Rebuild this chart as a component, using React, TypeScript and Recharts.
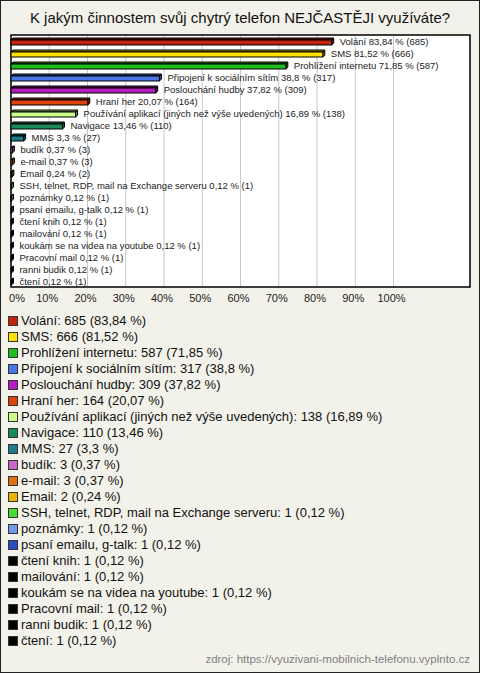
import { BarChart, Bar, XAxis, YAxis, CartesianGrid, ReferenceArea, LabelList, Cell } from 'recharts';

const categories = [
  'Volání',
  'SMS',
  'Prohlížení internetu',
  'Připojení k sociálním sítím',
  'Poslouchání hudby',
  'Hraní her',
  'Používání aplikací (jiných než výše uvedených)',
  'Navigace',
  'MMS',
  'budík',
  'e-mail',
  'Email',
  'SSH, telnet, RDP, mail na Exchange serveru',
  'poznámky',
  'psaní emailu, g-talk',
  'čtení knih',
  'mailování',
  'koukám se na videa na youtube',
  'Pracovní mail',
  'ranni budik',
  'čtení',
];

const counts = [685, 666, 587, 317, 309, 164, 138, 110, 27, 3, 3, 2, 1, 1, 1, 1, 1, 1, 1, 1, 1];

const percents = [83.84, 81.52, 71.85, 38.8, 37.82, 20.07, 16.89, 13.46, 3.3, 0.37, 0.37, 0.24, 0.12, 0.12, 0.12, 0.12, 0.12, 0.12, 0.12, 0.12, 0.12];

const xTicks = [0, 10, 20, 30, 40, 50, 60, 70, 80, 90, 100];

const colors = [
  '#c4230f', '#ffe000', '#1fbb1f', '#4a76e8', '#b51dbf', '#e0420c', '#ccff88',
  '#1a8a5a', '#1f7a8c', '#cc66cc', '#e07010', '#e8b400', '#44dd33', '#6f9ae8',
  '#2a4fc0', '#000000', '#000000', '#000000', '#000000', '#000000', '#000000',
];

const fmt = (v: number) => String(v).replace('.', ',');

const data = categories.map((name, i) => ({
  name,
  pct: percents[i],
  count: counts[i],
  label: `${name} ${fmt(percents[i])} % (${counts[i]})`,
}));

function darken(hex: string, f: number) {
  const n = parseInt(hex.slice(1), 16);
  const r = Math.round(((n >> 16) & 255) * f);
  const g = Math.round(((n >> 8) & 255) * f);
  const b = Math.round((n & 255) * f);
  return `rgb(${r},${g},${b})`;
}

// flat bar with a little 3D top + end face, like the original image
const Bar3D = (props: any) => {
  const { x, y, width, height, fill } = props;
  const d = 2;
  const w = Math.max(width, 0.5);
  const dark = darken(fill, 0.6);
  return (
    <g stroke="#000" strokeWidth={1}>
      <polygon
        points={`${x},${y + d} ${x + d},${y} ${x + w + d},${y} ${x + w},${y + d}`}
        fill={dark}
      />
      <polygon
        points={`${x + w},${y + d} ${x + w + d},${y} ${x + w + d},${y + height - d} ${x + w},${y + height}`}
        fill={dark}
      />
      <rect x={x} y={y + d} width={w} height={height - d} fill={fill} />
    </g>
  );
};

const font = '"Liberation Sans", Arial, sans-serif';

// no wrapping, just one line right of the bar
const BarLabel = (props: any) => {
  const { x, y, width, height, value } = props;
  return (
    <text
      x={x + width + 8}
      y={y + height / 2}
      dominantBaseline="central"
      fontSize={9.5}
      fill="#222"
      fontFamily={font}
    >
      {value}
    </text>
  );
};

// 0% is pushed a bit right so it sits inside the frame, rest slightly left
const PctTick = (props: any) => {
  const { x, y, payload } = props;
  const dx = payload.value === 0 ? 6 : -2;
  return (
    <text x={x + dx} y={y + 4} textAnchor="middle" dominantBaseline="central" fontSize={11} fill="#222" fontFamily={font}>
      {`${payload.value}%`}
    </text>
  );
};

export default function App() {
  return (
    <div
      style={{
        position: 'absolute',
        top: 0,
        left: 0,
        width: 478,
        height: 671,
        background: '#f3f2ea',
        border: '1px solid #222',
        fontFamily: font,
        color: '#111',
      }}
    >
      <div
        style={{
          position: 'absolute',
          top: 8,
          left: 0,
          width: 478,
          textAlign: 'center',
          fontSize: 15,
        }}
      >
        K jakým činnostem svůj chytrý telefon NEJČASTĚJI využíváte?
      </div>

      <div style={{ position: 'absolute', top: -1, left: -1 }}>
        <BarChart
          width={480}
          height={310}
          data={data}
          layout="vertical"
          margin={{ top: 35, right: 10, bottom: 0, left: 11 }}
          barCategoryGap={0}
        >
          <CartesianGrid horizontal={false} stroke="#c8c8c8" fill="#ffffff" />
          <ReferenceArea x1={0} x2={120} fill="none" stroke="#000" strokeWidth={1.5} ifOverflow="visible" />
          <XAxis
            type="number"
            domain={[0, 120]}
            ticks={xTicks}
            axisLine={false}
            tickLine={false}
            tickSize={0}
            tickMargin={7}
            height={23}
            tick={<PctTick />}
            interval={0}
          />
          <YAxis type="category" dataKey="name" hide />
          <Bar dataKey="pct" barSize={7} shape={<Bar3D />} isAnimationActive={false}>
            {data.map((d, i) => (
              <Cell key={d.name} fill={colors[i]} />
            ))}
            <LabelList dataKey="label" content={<BarLabel />} />
          </Bar>
        </BarChart>
      </div>

      <div style={{ position: 'absolute', top: 312, left: 7, fontSize: 13, lineHeight: '16px' }}>
        {data.map((d, i) => (
          <div key={d.name} style={{ display: 'flex', alignItems: 'center', whiteSpace: 'nowrap' }}>
            <span
              style={{
                display: 'inline-block',
                width: 8,
                height: 8,
                background: colors[i],
                border: '1px solid #333',
                marginRight: 3,
              }}
            />
            {`${d.name}: ${d.count} (${fmt(d.pct)} %)`}
          </div>
        ))}
      </div>

      <div
        style={{
          position: 'absolute',
          right: 9,
          top: 652,
          fontSize: 11.5,
          color: '#808080',
        }}
      >
        zdroj: https://vyuzivani-mobilnich-telefonu.vyplnto.cz
      </div>
    </div>
  );
}
